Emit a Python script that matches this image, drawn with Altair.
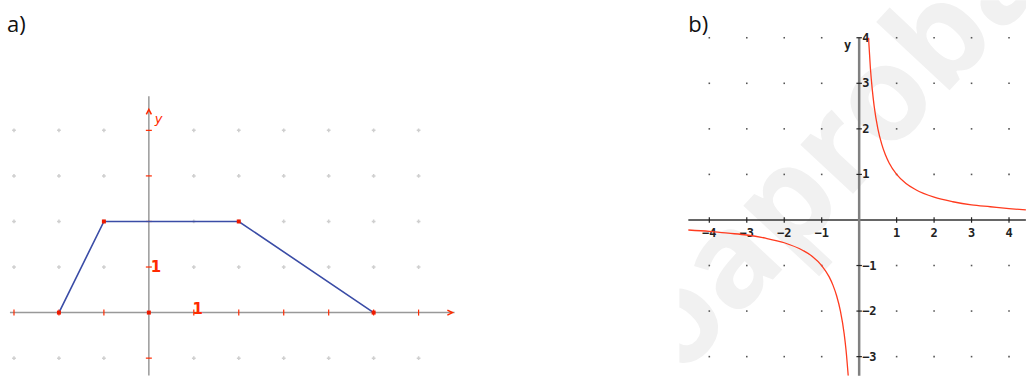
import altair as alt
import pandas as pd

# ---------------- Panel a data ----------------
a_grid_x = [-3, -2, -1, 0, 1, 2, 3, 4, 5, 6]
a_grid_y = [-1, 0, 1, 2, 3, 4]
trap_x = [-2, -1, 2, 5]
trap_y = [0, 2, 2, 0]
a_axis_x_extent = [-3.09, 6.8]
a_axis_y_extent = [-1.38, 4.75]
a_arrow_x = 6.71
a_arrow_y = 4.42

# ---------------- Panel b data ----------------
b_grid_x = [-4, -3, -2, -1, 0, 1, 2, 3, 4]
b_grid_y = [-3, -2, -1, 0, 1, 2, 3, 4]
b_xtick_vals = [-4, -3, -2, -1, 1, 2, 3, 4]
b_xtick_labels = ["−4", "−3", "−2", "−1", "1", "2", "3", "4"]
b_ytick_vals = [-3, -2, -1, 1, 2, 3, 4]
b_ytick_labels = ["−3", "−2", "−1", "1", "2", "3", "4"]
b_axis_x_extent = [-4.56, 4.45]
b_axis_y_extent = [-3.42, 4.0]
curve_right_x = [0.25, 0.3, 0.35, 0.4, 0.5, 0.6, 0.7, 0.8, 1.0, 1.25, 1.5, 2.0, 2.5, 3.0, 3.5, 4.0, 4.45]
curve_right_y = [4.0, 3.33, 2.86, 2.5, 2.0, 1.67, 1.43, 1.25, 1.0, 0.8, 0.67, 0.5, 0.4, 0.33, 0.29, 0.25, 0.22]
curve_left_x = [-4.56, -4.0, -3.5, -3.0, -2.5, -2.0, -1.5, -1.25, -1.0, -0.8, -0.7, -0.6, -0.5, -0.4, -0.35, -0.292]
curve_left_y = [-0.22, -0.25, -0.29, -0.33, -0.4, -0.5, -0.67, -0.8, -1.0, -1.25, -1.43, -1.67, -2.0, -2.5, -2.86, -3.42]

A_W, A_H = 470, 376
B_W, B_H = 347, 376
A_XDOM = [-149 / 45.0, (A_W - 149) / 45.0]
A_YDOM = [-(376 - 312.7) / 45.6, 312.7 / 45.6]
B_XDOM = [-180 / 37.5, (B_W - 180) / 37.5]
B_YDOM = [-(376 - 220) / 45.6, 220 / 45.6]


def xs(dom, field="x"):
    return alt.X(f"{field}:Q", scale=alt.Scale(domain=dom, nice=False, zero=False), axis=None)


def ys(dom, field="y"):
    return alt.Y(f"{field}:Q", scale=alt.Scale(domain=dom, nice=False, zero=False), axis=None)


# ================= Panel a =================
red = "#ff2a00"
a_grid = pd.DataFrame([{"x": gx, "y": gy} for gx in a_grid_x for gy in a_grid_y if gx != 0 and gy != 0])
a_dots = alt.Chart(a_grid).mark_point(shape="cross", size=14, filled=True, color="#cfcfcf", opacity=1).encode(
    x=xs(A_XDOM), y=ys(A_YDOM))

a_axes_df = pd.DataFrame([
    {"x": a_axis_x_extent[0], "x2": a_axis_x_extent[1], "y": 0.0, "y2": 0.0},
    {"x": 0.0, "x2": 0.0, "y": a_axis_y_extent[0], "y2": a_axis_y_extent[1]},
])
a_axes = alt.Chart(a_axes_df).mark_rule(color="#999999", strokeWidth=1.5).encode(
    x=xs(A_XDOM), x2="x2:Q", y=ys(A_YDOM), y2="y2:Q")

a_xt = pd.DataFrame({"x": [v for v in a_grid_x if v != 0], "y": 0})
a_xticks = alt.Chart(a_xt).mark_point(shape="M0,-1L0,1", size=36, filled=False, color=red, strokeWidth=1.2, opacity=1).encode(
    x=xs(A_XDOM), y=ys(A_YDOM))
a_yt = pd.DataFrame({"x": 0, "y": [v for v in a_grid_y if v != 0]})
a_yticks = alt.Chart(a_yt).mark_point(shape="M-1,0L1,0", size=36, filled=False, color=red, strokeWidth=1.2, opacity=1).encode(
    x=xs(A_XDOM), y=ys(A_YDOM))

a_arr_r = alt.Chart(pd.DataFrame({"x": [a_arrow_x], "y": [0]})).mark_point(
    shape="M-1,-0.8L0.6,0L-1,0.8", size=40, filled=False, color=red, strokeWidth=1.5, opacity=1).encode(
    x=xs(A_XDOM), y=ys(A_YDOM))
a_arr_u = alt.Chart(pd.DataFrame({"x": [0], "y": [a_arrow_y]})).mark_point(
    shape="M-0.8,1L0,-0.6L0.8,1", size=40, filled=False, color=red, strokeWidth=1.5, opacity=1).encode(
    x=xs(A_XDOM), y=ys(A_YDOM))

trap_df = pd.DataFrame({"x": trap_x, "y": trap_y, "o": list(range(len(trap_x)))})
a_line = alt.Chart(trap_df).mark_line(color="#3a4ca6", strokeWidth=1.6).encode(
    x=xs(A_XDOM), y=ys(A_YDOM), order="o:Q")
vert_df = pd.DataFrame({"x": trap_x + [0], "y": trap_y + [0]})
a_verts = alt.Chart(vert_df).mark_square(size=16, color="#ee1a00", opacity=1).encode(
    x=xs(A_XDOM), y=ys(A_YDOM))

a_lab1y = alt.Chart(pd.DataFrame({"x": [0], "y": [1], "t": ["1"]})).mark_text(
    font="DejaVu Sans", fontSize=15, fontWeight="bold", color=red, align="left", baseline="middle", dx=2).encode(
    x=xs(A_XDOM), y=ys(A_YDOM), text="t:N")
a_lab1x = alt.Chart(pd.DataFrame({"x": [1], "y": [0], "t": ["1"]})).mark_text(
    font="DejaVu Sans", fontSize=15, fontWeight="bold", color=red, align="center", baseline="alphabetic", dx=4, dy=1).encode(
    x=xs(A_XDOM), y=ys(A_YDOM), text="t:N")
a_laby = alt.Chart(pd.DataFrame({"x": [0], "y": [a_arrow_y], "t": ["y"]})).mark_text(
    font="DejaVu Sans", fontSize=13, fontStyle="italic", color=red, align="left", baseline="middle", dx=6, dy=8).encode(
    x=xs(A_XDOM), y=ys(A_YDOM), text="t:N")

a_title = alt.Chart(pd.DataFrame({"t": ["a)"]})).mark_text(
    font="Open Sans", fontSize=22, color="#111111", align="left", baseline="alphabetic").encode(
    x=alt.value(7), y=alt.value(32), text="t:N")

panel_a = alt.layer(a_dots, a_axes, a_xticks, a_yticks, a_arr_r, a_arr_u, a_line, a_verts,
                    a_lab1y, a_lab1x, a_laby, a_title).properties(width=A_W, height=A_H)

# ================= Panel b =================
curve_red = "#ff3b1f"
wm = alt.Chart(pd.DataFrame({"t": ["oaproba"]})).mark_text(
    font="Open Sans", fontSize=132, fontWeight="bold", color="#f1f1f1", align="center", baseline="middle",
    angle=313, clip=True).encode(
    x=alt.value(158), y=alt.value(152), text="t:N")

b_grid = pd.DataFrame([{"x": gx, "y": gy} for gx in b_grid_x for gy in b_grid_y if gx != 0 and gy != 0])
b_dots = alt.Chart(b_grid).mark_square(size=2.5, color="#555555", opacity=1).encode(
    x=xs(B_XDOM), y=ys(B_YDOM))

b_xaxis = alt.Chart(pd.DataFrame({"x": [b_axis_x_extent[0]], "x2": [b_axis_x_extent[1]], "y": [0.0]})).mark_rule(
    color="#333333", strokeWidth=1.5).encode(x=xs(B_XDOM), x2="x2:Q", y=ys(B_YDOM))
b_yaxis = alt.Chart(pd.DataFrame({"x": [0.0], "y": [b_axis_y_extent[0]], "y2": [b_axis_y_extent[1]]})).mark_rule(
    color="#808080", strokeWidth=2.5).encode(x=xs(B_XDOM), y=ys(B_YDOM), y2="y2:Q")

b_xt = pd.DataFrame({"x": b_xtick_vals, "y": 0, "t": b_xtick_labels})
b_xticks = alt.Chart(b_xt).mark_point(shape="M0,-1L0,1", size=30, filled=False, color="#222222", strokeWidth=1.2, opacity=1).encode(
    x=xs(B_XDOM), y=ys(B_YDOM))
b_xlabels = alt.Chart(b_xt).mark_text(font="DejaVu Sans Mono", fontWeight="bold", fontSize=12, color="#222222",
                                      align="center", baseline="alphabetic", dy=17).encode(
    x=xs(B_XDOM), y=ys(B_YDOM), text="t:N")
b_yt = pd.DataFrame({"x": 0, "y": b_ytick_vals, "t": b_ytick_labels})
b_yticks = alt.Chart(b_yt).mark_point(shape="M-1,0L1,0", size=30, filled=False, color="#222222", strokeWidth=1.2, opacity=1).encode(
    x=xs(B_XDOM), y=ys(B_YDOM))
b_ylabels = alt.Chart(b_yt).mark_text(font="DejaVu Sans Mono", fontWeight="bold", fontSize=12, color="#222222",
                                      align="left", baseline="middle", dx=3).encode(
    x=xs(B_XDOM), y=ys(B_YDOM), text="t:N")
b_laby = alt.Chart(pd.DataFrame({"x": [0], "y": [b_axis_y_extent[1]], "t": ["y"]})).mark_text(
    font="DejaVu Sans Mono", fontWeight="bold", fontSize=12, color="#222222", align="right", baseline="middle", dx=-8, dy=7).encode(
    x=xs(B_XDOM), y=ys(B_YDOM), text="t:N")

cr = pd.DataFrame({"x": curve_right_x, "y": curve_right_y, "o": list(range(len(curve_right_x)))})
cl = pd.DataFrame({"x": curve_left_x, "y": curve_left_y, "o": list(range(len(curve_left_x)))})
b_cr = alt.Chart(cr).mark_line(color=curve_red, strokeWidth=1.3, interpolate="monotone", clip=True).encode(
    x=xs(B_XDOM), y=ys(B_YDOM), order="o:Q")
b_cl = alt.Chart(cl).mark_line(color=curve_red, strokeWidth=1.3, interpolate="monotone", clip=True).encode(
    x=xs(B_XDOM), y=ys(B_YDOM), order="o:Q")

b_title = alt.Chart(pd.DataFrame({"t": ["b)"]})).mark_text(
    font="Open Sans", fontSize=22, color="#111111", align="left", baseline="alphabetic").encode(
    x=alt.value(9), y=alt.value(32), text="t:N")

panel_b = alt.layer(wm, b_dots, b_xaxis, b_yaxis, b_xticks, b_yticks, b_xlabels, b_ylabels, b_laby,
                    b_cr, b_cl, b_title).properties(width=B_W, height=B_H)

chart = alt.hconcat(panel_a, panel_b, spacing=210).properties(
    padding=0
).configure_view(stroke=None)

chart.save("out.html", embed_options={"renderer": "svg", "actions": False})
